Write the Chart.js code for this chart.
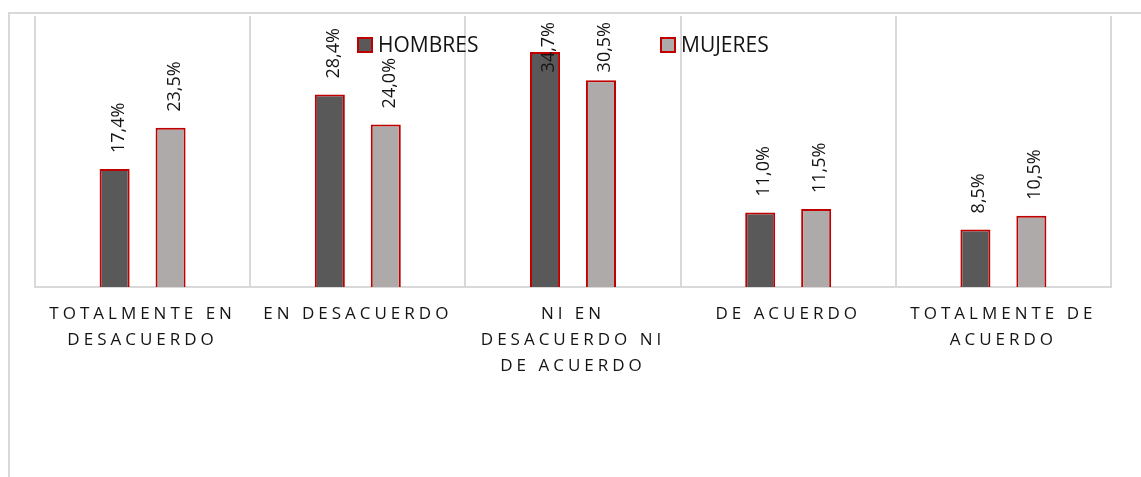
<!DOCTYPE html>
<html>
<head>
<meta charset="utf-8">
<script src="https://cdn.jsdelivr.net/npm/chart.js@4.4.1/dist/chart.umd.min.js"></script>
<style>
html, body { margin: 0; padding: 0; background: #fff; }
#wrap { position: relative; width: 1141px; height: 477px; overflow: hidden; }
#frame { position: absolute; left: 8px; top: 12px; width: 1200px; height: 500px;
         border-top: 2px solid #d9d9d9; border-left: 2px solid #d9d9d9; }
canvas { position: absolute; left: 0; top: 0; }
</style>
</head>
<body>
<div id="wrap">
  <div id="frame"></div>
  <canvas id="myChart" width="1141" height="477"></canvas>
</div>
<script>
// categorias (etiquetas del eje x, en varias lineas)
const categories = [
    ['TOTALMENTE EN', 'DESACUERDO'],
    ['EN DESACUERDO'],
    ['NI EN', 'DESACUERDO NI', 'DE ACUERDO'],
    ['DE ACUERDO'],
    ['TOTALMENTE DE', 'ACUERDO']
];
const seriesNames = ['HOMBRES', 'MUJERES'];
const hombres = [17.4, 28.4, 34.7, 11.0, 8.5];
const mujeres = [23.5, 24.0, 30.5, 11.5, 10.5];

const FONT = '"Open Sans", "Noto Sans", sans-serif';
const TEXT = '#141414';

// espaciado de letras en las etiquetas del eje x
const xLetterSpacing = {
    id: 'xLetterSpacing',
    beforeDraw(chart) {
        const s = chart.scales.x;
        if (s._spaced) return;
        const orig = s.drawLabels;
        s.drawLabels = function(area) {
            const c = this.ctx;
            c.save();
            c.letterSpacing = '4px';
            orig.call(this, area);
            c.restore();
        };
        s._spaced = true;
    }
};

// etiquetas de valor, giradas
const valueLabels = {
    id: 'valueLabels',
    afterDatasetsDraw(chart) {
        const ctx = chart.ctx;
        const top = chart.chartArea.top + 6;
        chart.data.datasets.forEach((ds, i) => {
            chart.getDatasetMeta(i).data.forEach((bar, j) => {
                const txt = ds.data[j].toFixed(1).replace('.', ',') + '%';
                ctx.save();
                ctx.font = '18px ' + FONT;
                const w = ctx.measureText(txt).width;
                let y = bar.y - 16;
                if (y - w < top) y = top + w;
                ctx.translate(bar.x + 9, y);
                ctx.rotate(-Math.PI / 2);
                ctx.fillStyle = TEXT;
                ctx.textBaseline = 'alphabetic';
                ctx.textAlign = 'left';
                ctx.fillText(txt, 0, 0);
                ctx.restore();
            });
        });
    }
};

// leyenda dentro del area del grafico
const innerLegend = {
    id: 'innerLegend',
    afterDraw(chart, args, opts) {
        const ctx = chart.ctx;
        chart.data.datasets.forEach((ds, i) => {
            const x = opts.xs[i];
            const y = opts.y;
            ctx.save();
            ctx.fillStyle = ds.backgroundColor;
            ctx.strokeStyle = ds.borderColor;
            ctx.lineWidth = 2;
            ctx.fillRect(x, y - 7, 14, 14);
            ctx.strokeRect(x, y - 7, 14, 14);
            ctx.font = '21px ' + FONT;
            ctx.fillStyle = TEXT;
            ctx.textBaseline = 'middle';
            ctx.fillText(ds.label, x + 20, y + 1);
            ctx.restore();
        });
    }
};

const ctx = document.getElementById('myChart').getContext('2d');
const myChart = new Chart(ctx, {
    type: 'bar',
    data: {
        labels: categories,
        datasets: [{
            label: seriesNames[0],
            data: hombres,
            backgroundColor: '#595959',
            borderColor: '#c00000',
            borderWidth: 2
        }, {
            label: seriesNames[1],
            data: mujeres,
            backgroundColor: '#aeaaaa',
            borderColor: '#c00000',
            borderWidth: 2
        }]
    },
    options: {
        responsive: false,
        animation: false,
        layout: { padding: { left: 35, right: 30, top: 16, bottom: 0 } },
        datasets: {
            bar: { categoryPercentage: 0.52, barPercentage: 0.537 }
        },
        scales: {
            x: {
                grid: { color: '#d9d9d9', lineWidth: 2, drawTicks: false },
                border: { color: '#d9d9d9', width: 2 },
                ticks: {
                    font: { family: FONT, size: 17, lineHeight: 1.53 },
                    color: TEXT,
                    padding: 14,
                    maxRotation: 0,
                    autoSkip: false
                },
                afterFit(s) { s.height = 190; }
            },
            y: {
                display: false,
                min: 0,
                max: 40
            }
        },
        plugins: {
            legend: { display: false },
            tooltip: { enabled: false },
            innerLegend: { xs: [358, 661], y: 45 }
        }
    },
    plugins: [xLetterSpacing, valueLabels, innerLegend]
});
</script>
</body>
</html>
